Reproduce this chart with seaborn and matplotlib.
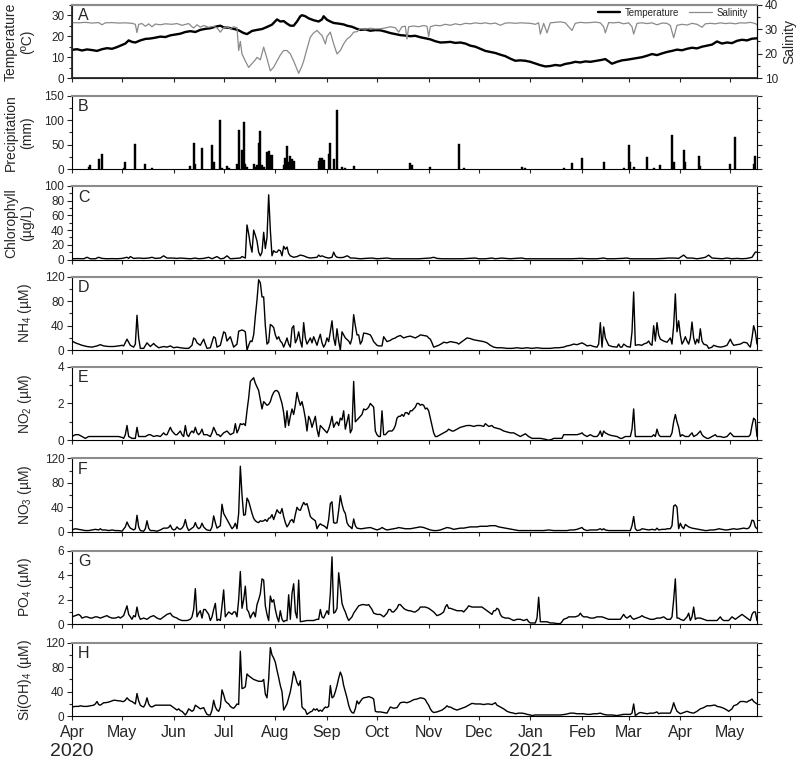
import numpy as np
import pandas as pd
import matplotlib
matplotlib.use("Agg")
import matplotlib.pyplot as plt
import matplotlib.dates as mdates
import matplotlib.transforms as mtransforms
from matplotlib.ticker import MultipleLocator
from matplotlib.lines import Line2D
import seaborn as sns

# ---------------- data (day offset from 2020-04-01, value) ----------------
START = "2020-04-01"

temperature = [(0,13.5),(3,13.8),(6,13.2),(9,13.7),(12,13.4),(15,13.0),(18,13.8),(21,14.3),(24,14.0),(27,14.8),
 (30,15.8),(32,16.5),(34,18.0),(36,17.3),(38,17.0),(41,18.0),(44,18.7),(47,18.9),(50,19.3),(53,19.8),(56,19.6),
 (59,20.4),(62,20.8),(65,21.2),(68,22.0),(71,22.4),(74,22.0),(77,23.0),(80,23.5),(83,23.8),(86,24.5),(89,25.0),
 (91,24.2),(94,24.0),(97,23.5),(100,22.8),(103,21.5),(105,21.0),(108,22.5),(111,23.0),(114,23.4),(117,24.4),
 (120,25.5),(123,28.0),(125,27.0),(127,27.2),(129,26.0),(131,25.0),(133,25.0),(135,27.0),(137,29.5),(138,30.0),
 (140,29.5),(142,28.5),(145,27.6),(148,27.0),(150,28.0),(151,29.5),(153,27.8),(155,27.0),(157,26.3),(160,26.0),
 (163,25.6),(165,25.0),(168,24.5),(171,23.5),(173,23.0),(176,23.2),(179,22.6),(182,22.9),(185,22.8),(188,22.2),
 (191,21.5),(194,21.0),(197,20.5),(200,20.3),(203,20.0),(206,20.2),(209,19.5),(212,19.0),(215,18.5),(218,17.6),
 (221,17.0),(224,17.1),(227,17.3),(230,16.8),(233,17.0),(236,16.5),(239,15.5),(242,15.0),(245,14.0),(248,13.0),
 (251,12.5),(254,12.0),(257,11.2),(260,10.5),(263,9.3),(266,8.3),(269,8.5),(272,8.3),(275,7.8),(278,7.0),
 (281,6.2),(284,5.6),(287,5.8),(290,6.3),(293,6.0),(296,6.8),(299,7.2),(302,7.8),(305,7.5),(308,8.0),(311,7.8),
 (314,8.2),(317,8.6),(320,9.1),(322,8.0),(324,6.9),(327,7.8),(330,8.5),(333,8.8),(336,9.2),(339,9.6),(342,10.0),
 (345,10.7),(348,11.5),(351,11.0),(354,11.8),(357,12.5),(360,13.0),(363,13.6),(366,13.3),(369,14.0),(372,14.5),
 (375,14.2),(378,15.0),(381,15.5),(384,16.0),(387,17.5),(390,16.5),(393,17.0),(396,16.7),(399,17.8),(402,18.3),
 (405,18.0),(408,18.8),(411,19.0)]

salinity = [(0,32.7),(4,32.6),(8,32.8),(12,32.5),(16,32.7),(18,31.8),(20,32.6),(24,32.7),(28,32.5),(32,32.6),
 (36,32.4),(38,32.0),(39,28.6),(40,32.0),(42,32.3),(44,31.2),(46,32.2),(48,31.0),(50,32.1),(53,31.8),(56,32.2),
 (60,32.0),(63,32.3),(66,31.6),(70,32.3),(72,31.0),(73,30.5),(75,31.8),(77,30.8),(79,31.5),(82,30.8),(85,31.2),
 (87,30.5),(89,28.8),(91,30.6),(93,30.9),(95,30.2),(97,31.0),(99,30.6),(100,21.3),(101,25.0),(102,19.9),(104,17.0),
 (106,14.4),(108,16.0),(110,17.5),(111,18.5),(113,17.5),(115,22.7),(117,18.0),(119,13.0),(121,14.5),(123,17.0),
 (125,19.5),(127,21.3),(129,21.3),(131,19.9),(133,17.0),(136,12.0),(138,15.0),(139,17.0),(141,22.0),(143,26.8),
 (145,28.5),(147,29.5),(149,28.0),(150,27.5),(152,24.0),(153,27.0),(155,28.8),(157,24.0),(159,19.9),(161,21.3),
 (163,24.0),(165,26.0),(167,27.0),(169,28.8),(171,29.0),(173,30.2),(176,30.0),(179,30.4),(182,30.1),(185,30.2),
 (188,30.5),(191,31.0),(194,30.6),(196,28.8),(198,31.0),(200,31.2),(201,26.0),(202,31.0),(205,31.3),(208,31.0),
 (211,31.5),(213,31.2),(214,27.0),(215,31.0),(218,31.6),(221,31.4),(224,32.0),(227,31.6),(230,32.2),(233,31.8),
 (236,32.4),(239,32.2),(242,32.6),(245,32.3),(248,32.6),(251,32.2),(254,32.5),(257,31.6),(260,32.5),(263,32.6),
 (266,32.4),(269,32.6),(272,32.5),(275,32.4),(278,32.0),(280,32.6),(281,28.0),(283,32.4),(285,28.5),(287,32.6),
 (290,32.8),(293,33.0),(296,32.6),(298,31.0),(300,29.5),(302,32.4),(305,32.8),(308,32.6),(311,32.7),(314,32.9),
 (317,32.6),(319,31.0),(320,28.5),(322,32.7),(325,32.6),(328,32.8),(331,32.2),(334,32.6),(336,31.0),(337,28.0),
 (339,32.4),(342,32.6),(345,32.3),(348,32.6),(351,31.8),(354,32.5),(357,32.4),(359,31.5),(361,26.5),(363,31.6),
 (366,32.0),(369,31.7),(372,32.4),(375,32.0),(378,30.8),(380,32.2),(383,32.4),(386,32.2),(389,32.6),(392,32.3),
 (395,32.5),(398,32.2),(401,32.6),(404,32.5),(407,32.8),(410,32.3),(411,31.8)]

precipitation = [(10,4),(11,8),(16,20),(18,31),(31,3),(32,14),(38,51),(44,11),(48,2),(71,7),(73,54),(74,10),
 (78,43),(84,50),(85,14),(89,100),(90,3),(93,7),(94,3),(99,10),(100,81),(102,39),(103,97),(104,10),(105,4),
 (109,10),(110,4),(111,8),(112,53),(113,77),(114,9),(115,4),(117,35),(118,37),(119,28),(120,30),(127,9),(128,22),
 (129,47),(130,15),(131,27),(132,20),(133,16),(148,17),(149,23),(150,22),(151,18),(154,32),(155,53),(157,20),
 (159,120),(162,4),(164,3),(169,6),(203,13),(204,9),(215,4),(232,51),(235,2),(270,4),(272,2),(295,2),(300,13),
 (306,22),(319,14),(331,3),(334,50),(335,14),(337,4),(345,24),(349,3),(353,8),(360,69),(361,15),(367,39),
 (368,14),(376,27),(377,6),(395,11),(398,65),(409,10),(410,27)]

chlorophyll = [(0,1),(4,1.2),(7,1),(9,3),(11,1),(14,1),(16,3),(18,1.5),(21,1),(24,1.2),(27,1),(30,1.5),(33,3),
 (34,1.5),(35,4),(37,1.5),(40,2),(43,1.5),(46,2),(48,3),(50,1.5),(53,2),(55,5),(57,2),(60,2),(63,1.5),(65,2),
 (68,1.5),(71,1),(74,2),(76,1),(79,1.5),(82,3),(84,1),(87,4),(89,1),(91,1.5),(93,5),(95,1),(98,1.5),(101,2),
 (102,4),(104,2),(105,47),(106,35),(107,20),(108,10),(109,40),(110,33),(111,25),(112,10),(113,5),(114,10),
 (115,37),(116,15),(117,30),(118,88),(119,40),(120,5),(121,12),(122,10),(123,10),(124,13),(125,12),(126,5),
 (127,18),(128,14),(129,17),(130,8),(131,5),(133,3),(135,4),(137,6),(139,5),(141,3),(143,2),(145,2.5),(147,3),
 (148,6),(149,4),(150,5),(152,3),(154,2),(156,3),(157,10),(158,5),(159,3),(161,2.5),(163,3),(165,5),(166,4),
 (167,2),(169,2),(171,1.5),(173,1),(176,1.5),(180,2),(183,1),(186,1.5),(189,2),(192,1),(196,1),(200,1),(204,1),
 (208,1),(212,1.5),(215,2),(217,3),(219,1.5),(222,1),(226,1),(230,1),(234,1),(238,1.5),(242,2),(244,1),(248,1),
 (252,2),(254,1),(258,2),(260,1.5),(263,1),(266,1.5),(270,2),(272,1),(276,1),(280,1),(285,1),(290,1),(295,1),
 (300,1),(305,1.5),(310,1),(315,1),(319,2),(321,1),(325,1),(330,1.5),(333,2),(335,1),(340,1),(345,1),(350,1),
 (355,1.5),(358,2),(361,2),(364,1.5),(367,6),(369,2),(372,2),(375,1),(378,2),(380,3),(382,6),(384,2),(387,1.5),
 (390,1),(393,2),(396,1),(399,1.5),(402,1),(405,1.5),(408,3),(410,10),(411,10)]

ammonium = [(0,15),(2,12),(4,10),(6,8),(9,6),(12,5),(15,7),(17,9),(19,7),(22,6),(25,6),(28,7),(30,8),(31,7),
 (33,18),(35,8),(37,5),(38,10),(39,57),(40,20),(41,3),(43,3),(45,12),(47,6),(49,11),(50,8),(52,4),(55,6),(57,5),
 (59,7),(61,4),(63,5),(65,4),(68,3),(70,3),(72,8),(73,20),(74,18),(75,12),(77,8),(79,18),(80,10),(81,3),(83,4),
 (85,22),(86,20),(87,5),(89,8),(91,30),(92,28),(93,15),(95,22),(97,5),(99,10),(100,31),(102,33),(103,32),(104,30),
 (105,0),(106,8),(107,15),(108,14),(109,25),(110,55),(111,82),(112,115),(113,110),(114,87),(115,87),(116,40),
 (117,10),(118,13),(119,42),(120,40),(121,37),(122,25),(123,18),(124,22),(125,15),(126,12),(127,5),(128,12),
 (129,20),(130,10),(131,5),(132,36),(133,40),(134,12),(135,18),(136,30),(137,15),(138,5),(139,45),(140,20),
 (141,10),(142,15),(143,20),(144,12),(145,22),(146,15),(147,8),(148,18),(149,26),(150,12),(151,5),(152,10),
 (153,20),(154,14),(155,30),(156,48),(157,20),(158,8),(159,35),(160,15),(161,0),(162,30),(163,25),(164,20),
 (166,15),(167,10),(168,20),(169,58),(170,40),(171,25),(172,25),(173,10),(174,15),(175,28),(177,27),(179,25),
 (180,20),(181,14),(183,8),(184,7),(186,7),(187,22),(188,18),(189,14),(191,16),(192,18),(194,20),(195,22),
 (197,24),(199,20),(201,22),(203,23),(205,21),(206,20),(208,23),(209,25),(211,24),(213,23),(214,20),(215,18),
 (216,12),(217,5),(219,7),(220,8),(222,11),(223,13),(225,12),(227,14),(229,13),(231,12),(232,10),(234,14),
 (236,18),(237,20),(239,19),(241,17),(243,16),(245,15),(247,14),(249,12),(251,8),(253,5),(255,4),(258,4),(261,3),
 (264,3),(267,4),(270,3),(273,4),(276,3),(279,4),(282,3),(285,3),(287,3),(290,4),(292,4),(295,5),(297,7),(299,8),
 (301,10),(303,9),(305,11),(306,12),(308,9),(309,7),(311,8),(313,6),(315,5),(316,10),(317,45),(318,5),(319,38),
 (320,20),(322,8),(324,6),(327,5),(328,10),(329,5),(330,5),(331,10),(333,6),(335,5),(336,30),(337,95),(338,8),
 (340,9),(342,8),(343,10),(345,12),(346,15),(347,10),(348,8),(349,40),(350,15),(351,45),(352,25),(353,18),
 (355,15),(357,13),(359,20),(360,10),(361,40),(362,92),(363,30),(364,48),(365,25),(366,10),(367,15),(368,22),
 (369,15),(370,10),(371,20),(372,46),(373,20),(374,10),(375,18),(376,12),(377,35),(378,15),(379,10),(381,8),
 (382,3),(384,5),(385,8),(387,6),(389,5),(391,6),(393,8),(395,18),(396,12),(397,8),(399,9),(401,10),(403,13),
 (405,12),(406,8),(407,5),(408,20),(409,40),(410,30),(411,10)]

nitrite = [(0,0.2),(2,0.3),(4,0.3),(6,0.2),(8,0.1),(10,0.2),(13,0.2),(16,0.2),(19,0.2),(22,0.2),(25,0.2),
 (28,0.2),(30,0.15),(31,0.1),(32,0.3),(33,0.8),(34,0.2),(36,0.1),(38,0.1),(39,0.7),(40,0.2),(42,0.2),(44,0.2),
 (46,0.3),(47,0.3),(49,0.2),(51,0.25),(53,0.2),(55,0.4),(56,0.3),(57,0.3),(59,0.7),(60,0.5),(61,0.4),(62,0.3),
 (63,0.3),(64,0.4),(65,0.5),(66,0.3),(67,0.2),(68,0.8),(69,0.3),(70,0.2),(71,0.4),(72,0.5),(73,0.4),(74,0.7),
 (75,0.4),(76,0.3),(77,0.4),(78,0.6),(79,0.3),(81,0.3),(83,0.2),(84,0.4),(85,0.7),(86,0.5),(87,0.3),(88,0.3),
 (89,0.2),(91,0.4),(93,0.5),(94,0.4),(95,0.3),(96,0.35),(97,0.4),(98,0.9),(99,0.4),(100,0.6),(101,0.9),
 (102,0.85),(103,0.9),(104,0.8),(105,1.6),(106,2.3),(107,3.2),(108,3.3),(109,3.4),(110,3.1),(111,2.9),(112,2.7),
 (113,2.2),(114,1.7),(115,2.1),(116,2.0),(117,1.9),(118,1.95),(119,2.1),(120,2.4),(121,2.6),(122,2.7),(123,2.7),
 (124,2.6),(125,2.3),(126,2.0),(127,1.5),(128,0.7),(129,1.6),(130,0.8),(131,1.3),(132,1.7),(133,1.4),(134,1.9),
 (135,2.6),(136,2.2),(137,1.9),(138,2.1),(139,1.7),(140,1.2),(141,0.5),(142,1.3),(143,1.1),(144,0.7),(145,1.0),
 (146,1.3),(147,0.6),(148,0.2),(149,0.8),(150,0.7),(151,0.6),(152,0.5),(153,0.4),(154,0.6),(155,0.9),(156,1.3),
 (157,0.7),(158,0.9),(159,1.0),(160,0.8),(161,1.2),(162,1.1),(163,1.6),(164,0.6),(165,1.0),(166,1.4),(167,0.4),
 (168,0.6),(169,3.2),(170,1.0),(171,1.1),(172,1.2),(173,1.3),(174,1.4),(175,1.7),(176,1.65),(177,1.7),(178,1.8),
 (179,2.0),(180,1.9),(181,1.8),(182,0.5),(183,0.3),(184,0.2),(185,0.2),(186,1.6),(187,0.3),(188,0.3),(189,0.4),
 (190,0.5),(192,0.5),(193,0.6),(194,0.8),(195,1.2),(196,1.3),(197,1.3),(198,1.4),(199,1.3),(200,1.5),(201,1.5),
 (202,1.4),(203,1.6),(204,1.6),(205,1.7),(206,1.8),(207,2.0),(208,2.0),(209,1.9),(210,1.95),(211,1.9),(212,1.7),
 (213,1.75),(214,1.6),(215,1.2),(216,0.8),(217,0.4),(218,0.2),(219,0.2),(221,0.3),(223,0.4),(225,0.5),(226,0.6),
 (228,0.5),(229,0.5),(231,0.6),(233,0.7),(235,0.75),(237,0.8),(239,0.8),(241,0.75),(243,0.8),(245,0.8),
 (247,0.75),(248,0.9),(250,0.75),(252,0.8),(253,0.7),(255,0.65),(257,0.6),(259,0.5),(261,0.45),(263,0.4),
 (265,0.4),(267,0.3),(269,0.2),(271,0.3),(272,0.35),(274,0.2),(276,0.1),(278,0.1),(281,0.1),(284,0.05),(286,0.0),
 (288,0.05),(289,0.1),(292,0.1),(294,0.1),(295,0.3),(297,0.3),(299,0.3),(301,0.3),(303,0.3),(305,0.35),(306,0.4),
 (307,0.3),(309,0.2),(311,0.3),(313,0.2),(315,0.2),(316,0.3),(317,0.5),(318,0.2),(319,0.5),(320,0.4),(322,0.3),
 (324,0.25),(327,0.2),(329,0.1),(330,0.1),(332,0.2),(335,0.2),(336,0.6),(337,1.7),(338,0.2),(340,0.2),(343,0.2),
 (346,0.2),(348,0.2),(349,0.3),(350,0.2),(351,0.6),(352,0.3),(353,0.2),(356,0.2),(359,0.2),(360,0.4),(361,1.0),
 (362,1.4),(363,1.0),(364,0.7),(365,0.2),(366,0.3),(368,0.2),(370,0.2),(372,0.4),(373,0.2),(375,0.3),(377,0.5),
 (378,0.3),(379,0.2),(381,0.1),(382,0.1),(384,0.2),(386,0.3),(387,0.2),(389,0.2),(391,0.15),(393,0.2),(395,0.4),
 (396,0.3),(397,0.2),(400,0.2),(403,0.2),(406,0.2),(407,0.3),(408,0.8),(409,1.2),(410,1.1),(411,0.2)]

nitrate = [(0,3),(2,5),(4,4),(6,3),(8,2),(10,2),(12,3),(14,4),(16,3),(17,5),(18,3),(20,3),(22,2),(24,3),(26,2),
 (28,2),(30,1),(32,8),(33,16),(34,10),(35,6),(37,3),(38,5),(39,27),(40,8),(41,2),(43,1),(44,5),(45,18),(46,6),
 (47,2),(49,2),(51,1),(53,3),(55,6),(57,6),(58,7),(59,11),(60,5),(61,3),(62,4),(63,8),(64,5),(65,4),(66,6),
 (67,10),(68,20),(69,8),(70,2),(71,4),(72,6),(73,8),(74,15),(75,8),(76,5),(77,7),(78,14),(79,8),(80,5),(81,3),
 (83,2),(84,8),(85,26),(86,15),(87,6),(88,8),(89,10),(90,45),(91,30),(92,25),(93,20),(94,15),(95,10),(96,5),
 (97,8),(98,14),(99,5),(100,30),(101,107),(102,60),(103,27),(104,28),(105,55),(106,50),(107,40),(108,30),
 (109,22),(110,18),(111,16),(112,15),(113,18),(114,17),(115,18),(116,20),(117,17),(118,22),(119,23),(120,28),
 (121,20),(122,28),(123,36),(124,32),(125,30),(126,38),(127,25),(128,15),(129,8),(130,12),(131,18),(132,20),
 (133,15),(134,28),(135,40),(136,36),(137,35),(138,42),(139,48),(140,44),(141,46),(142,36),(143,25),(144,22),
 (145,20),(146,18),(147,5),(148,10),(149,13),(150,11),(151,10),(152,8),(153,5),(154,20),(155,46),(156,49),
 (157,15),(158,14),(159,15),(160,35),(161,59),(162,45),(163,35),(164,30),(165,15),(166,10),(167,8),(168,5),
 (169,21),(170,10),(171,6),(173,5),(174,5),(176,6),(179,7),(181,5),(183,3),(185,5),(186,7),(188,4),(189,3),
 (191,4),(193,5),(195,6),(196,7),(198,6),(200,5),(203,5),(205,6),(207,7),(209,8),(211,7),(213,5),(215,3),(217,2),
 (219,2),(221,3),(223,5),(225,7),(227,6),(229,4),(231,5),(233,6),(235,6),(237,7),(239,8),(241,8),(243,8),(245,9),
 (247,9),(249,9),(251,10),(253,10),(254,10),(256,8),(258,7),(260,6),(262,5),(264,4),(266,3),(268,2),(271,2),
 (274,2),(277,2),(280,2),(283,2),(286,3),(289,2),(292,2),(295,2),(297,2),(299,3),(301,3),(303,4),(305,6),(306,7),
 (307,4),(309,2),(311,3),(313,3),(315,3),(317,5),(318,3),(319,5),(320,3),(322,2),(325,2),(327,2),(330,2),(333,2),
 (335,2),(336,10),(337,25),(338,5),(339,2),(341,3),(342,5),(344,4),(346,3),(348,4),(350,3),(351,6),(352,3),
 (354,4),(356,4),(357,5),(359,5),(360,10),(361,42),(362,44),(363,40),(364,5),(365,14),(366,8),(367,5),(368,12),
 (369,10),(370,8),(372,6),(374,5),(376,4),(378,3),(380,2),(381,2),(383,3),(385,3),(387,4),(388,5),(390,4),
 (392,3),(393,3),(395,4),(397,5),(399,4),(401,5),(403,6),(405,5),(406,6),(407,10),(408,19),(409,18),(410,8),
 (411,5)]

phosphate = [(0,0.6),(2,0.7),(4,0.8),(5,0.7),(6,0.5),(8,0.6),(9,0.6),(11,0.5),(12,0.5),(14,0.6),(15,0.6),
 (17,0.5),(19,0.6),(21,0.7),(22,0.6),(24,0.5),(26,0.5),(28,0.6),(29,0.5),(31,0.7),(33,1.5),(34,0.8),(36,0.4),
 (37,0.7),(38,0.6),(39,1.4),(40,0.7),(41,0.4),(43,0.5),(45,0.4),(47,0.6),(49,0.7),(51,0.5),(53,0.4),(55,0.6),
 (57,0.8),(59,0.9),(60,0.7),(61,0.6),(63,0.5),(64,0.4),(66,0.3),(68,0.3),(69,0.3),(71,0.4),(72,0.6),(73,1.2),
 (74,2.9),(75,0.6),(76,0.9),(77,1.1),(78,0.5),(79,1.2),(80,1.2),(81,1.0),(82,0.8),(83,0.3),(84,0.6),(85,1.2),
 (86,1.7),(87,0.3),(88,0.4),(89,0.3),(90,1.5),(91,2.8),(92,0.6),(93,0.8),(94,1.0),(95,0.9),(96,0.8),(97,1.0),
 (98,1.0),(99,0.6),(100,2.0),(101,4.3),(102,1.3),(103,2.0),(104,3.1),(105,1.2),(106,1.0),(107,0.5),(108,0.8),
 (109,1.0),(110,0.6),(111,1.6),(112,2.0),(113,2.5),(114,3.7),(115,3.6),(116,1.5),(117,0.8),(118,0.3),(119,2.3),
 (120,1.8),(121,2.0),(122,1.2),(123,0.6),(124,0.2),(125,1.1),(126,0.4),(127,0.2),(128,0.3),(129,0.3),(130,2.4),
 (131,0.4),(132,2.5),(133,3.3),(134,1.0),(135,0.5),(136,3.6),(137,0.2),(139,0.25),(141,0.3),(143,0.3),(145,0.3),
 (147,0.4),(148,0.4),(149,1.2),(150,0.6),(151,0.5),(152,0.8),(153,1.1),(154,0.8),(155,2.5),(156,5.5),(157,0.9),
 (158,1.0),(159,1.3),(160,4.2),(161,3.0),(162,1.7),(163,1.3),(164,1.0),(165,0.6),(166,0.3),(168,0.6),(169,0.9),
 (171,1.3),(172,1.5),(174,1.6),(175,1.6),(177,1.55),(178,1.6),(180,1.2),(181,0.9),(183,0.8),(185,0.8),(187,0.6),
 (189,0.9),(190,1.2),(191,1.2),(192,1.0),(193,1.0),(195,1.3),(196,1.6),(197,1.6),(199,1.3),(200,1.2),(202,1.1),
 (203,1.1),(205,1.0),(206,1.0),(208,1.2),(209,1.4),(211,1.4),(212,1.4),(214,1.3),(215,1.2),(217,1.0),(219,0.7),
 (221,0.8),(223,1.0),(224,1.4),(225,1.6),(226,1.3),(227,1.3),(229,1.2),(231,1.1),(232,1.1),(234,1.1),(235,1.0),
 (237,1.3),(238,1.5),(240,1.4),(242,1.4),(244,1.4),(246,1.4),(248,1.2),(249,1.1),(251,0.9),(252,0.8),(253,1.1),
 (254,1.1),(255,1.3),(256,1.2),(257,0.8),(258,0.6),(260,0.5),(262,0.5),(265,0.3),(267,0.4),(269,0.4),(271,0.3),
 (273,0.4),(274,0.2),(275,0.1),(277,0.1),(278,0.1),(279,0.5),(280,2.2),(281,0.2),(283,0.2),(285,0.2),(287,0.1),
 (289,0.1),(291,0.05),(293,0.05),(294,0.2),(295,0.4),(297,0.5),(298,0.6),(300,0.6),(302,0.6),(304,0.7),(305,0.9),
 (306,0.7),(307,0.6),(309,0.6),(311,0.5),(313,0.5),(315,0.6),(317,0.6),(318,0.6),(320,0.5),(322,0.4),(324,0.4),
 (326,0.4),(328,0.4),(329,0.4),(330,0.6),(331,0.8),(332,0.6),(333,0.5),(334,0.6),(335,0.7),(336,0.5),(337,0.4),
 (339,0.5),(341,0.6),(342,0.7),(343,0.6),(345,0.5),(347,0.4),(349,0.4),(351,0.5),(353,0.5),(355,0.6),(357,0.4),
 (359,0.4),(360,0.6),(361,2.0),(362,3.7),(363,0.5),(364,0.5),(365,0.4),(367,0.3),(369,0.6),(370,0.9),(371,0.3),
 (372,0.6),(373,1.4),(374,0.4),(375,0.5),(377,0.5),(379,0.4),(381,0.3),(383,0.3),(385,0.3),(387,0.3),(389,0.6),
 (390,0.4),(391,0.3),(393,0.3),(394,0.3),(396,0.6),(397,0.5),(398,0.4),(400,0.6),(402,0.8),(404,0.6),(405,0.5),
 (407,0.3),(408,0.8),(409,1.0),(410,1.0),(411,0.3)]

silicate = [(0,15),(2,16),(4,16),(5,17),(7,16),(9,16),(11,17),(13,18),(14,20),(15,24),(16,19),(17,18),(19,22),
 (20,22),(22,23),(23,24),(25,26),(26,26),(28,25),(29,25),(30,24),(31,24),(32,26),(33,30),(34,27),(35,25),(36,24),
 (37,22),(38,20),(39,37),(40,25),(41,18),(42,16),(43,15),(44,20),(45,30),(46,20),(47,16),(48,15),(50,18),(52,18),
 (54,18),(55,18),(57,18),(59,18),(60,16),(61,14),(62,12),(63,10),(64,12),(65,9),(66,8),(67,5),(68,2),(69,6),
 (70,12),(71,10),(72,8),(73,10),(74,18),(75,16),(76,14),(77,12),(78,13),(79,14),(80,8),(81,3),(82,2),(83,2),
 (84,10),(85,26),(86,15),(87,10),(88,8),(89,15),(90,43),(91,35),(92,25),(93,22),(94,20),(95,16),(96,14),(97,13),
 (98,16),(99,20),(100,19),(101,106),(102,45),(103,46),(104,48),(105,69),(106,66),(107,64),(108,62),(109,60),
 (110,59),(111,58),(112,57),(113,57),(114,57),(115,60),(116,36),(117,30),(118,60),(119,112),(120,100),(121,95),
 (122,88),(123,75),(124,63),(125,50),(126,40),(127,10),(128,15),(129,20),(130,30),(131,40),(132,55),(133,73),
 (134,65),(135,55),(136,50),(137,58),(138,15),(139,12),(140,10),(141,3),(142,5),(143,7),(144,8),(145,12),(146,10),
 (147,12),(148,8),(149,10),(150,8),(151,12),(152,15),(153,14),(154,16),(155,50),(156,30),(157,32),(158,40),
 (159,50),(160,62),(161,72),(162,65),(163,50),(164,40),(165,30),(166,18),(167,10),(168,6),(169,5),(170,12),
 (171,25),(172,20),(173,24),(174,28),(175,30),(177,31),(178,32),(179,31),(180,30),(181,28),(182,8),(183,7),
 (185,7),(187,6),(189,5),(190,10),(191,15),(193,13),(195,14),(196,18),(197,22),(199,23),(201,22),(203,24),
 (205,27),(207,28),(209,30),(211,29),(212,27),(213,22),(214,18),(215,12),(216,8),(217,6),(219,7),(220,8),(222,10),
 (224,14),(225,17),(226,15),(227,15),(229,12),(231,10),(233,12),(235,14),(236,15),(238,18),(240,21),(242,20),
 (244,20),(245,20),(247,19),(249,20),(250,20),(252,19),(254,22),(255,18),(257,15),(259,12),(261,8),(263,6),
 (265,5),(266,4),(268,5),(270,5),(272,4),(273,3),(275,2),(276,1),(278,2),(281,2),(284,2),(287,2),(290,2),(293,2),
 (296,3),(299,5),(301,5),(303,4),(305,4),(307,4),(309,3),(311,3),(313,4),(315,4),(317,5),(319,3),(321,2),(324,2),
 (327,1),(329,2),(331,3),(333,3),(335,3),(336,5),(337,20),(338,1),(340,5),(341,6),(343,5),(345,4),(347,5),(349,5),
 (351,7),(352,4),(353,5),(355,5),(357,5),(359,5),(360,12),(361,22),(362,14),(363,8),(364,6),(365,4),(367,6),
 (369,8),(371,6),(373,5),(375,8),(377,12),(379,14),(381,17),(383,17),(385,18),(386,18),(387,16),(389,15),(391,13),
 (393,10),(394,8),(396,12),(397,17),(399,19),(401,24),(403,24),(405,23),(406,25),(407,26),(408,28),(409,24),
 (410,22),(411,20)]

panel_letters = ["A", "B", "C", "D", "E", "F", "G", "H"]
panel_ylabels = ["Temperature\n(ºC)", "Precipitation\n(mm)", "Chlorophyll\n(µg/L)", "NH$_4$ (µM)",
                 "NO$_2$ (µM)", "NO$_3$ (µM)", "PO$_4$ (µM)", "Si(OH)$_4$ (µM)"]
panel_ylims = [(0, 35), (0, 150), (0, 100), (0, 120), (0, 4), (0, 120), (0, 6), (0, 120)]
panel_major = [10, 50, 20, 40, 2, 40, 2, 40]
panel_minor = [5, 25, 10, 20, 1, 20, 1, 20]
legend_labels = ["Temperature", "Salinity"]
year_labels = [("2020-04-01", "2020"), ("2021-01-01", "2021")]
X_END_DAY = 411

# ---------------- helpers ----------------
BASE = pd.Timestamp(START)


def to_frame(pairs):
    df = pd.DataFrame(pairs, columns=["day", "value"])
    df["date"] = BASE + pd.to_timedelta(df["day"], unit="D")
    return df


# ---------------- figure ----------------
sns.set_theme(style="ticks")
plt.rcParams["font.family"] = ["Liberation Sans", "DejaVu Sans"]
plt.rcParams["mathtext.fontset"] = "custom"
plt.rcParams["mathtext.rm"] = "Liberation Sans"
plt.rcParams["mathtext.it"] = "Liberation Sans"
plt.rcParams["mathtext.default"] = "regular"

W, H = 796, 759
fig = plt.figure(figsize=(W / 100, H / 100), dpi=100)
left_px, right_px = 72, 757
tops_px = [4.7, 95.7, 186.0, 276.7, 366.7, 458.3, 550.7, 642.7]
h_px = 73.5

axes = []
for t in tops_px:
    ax = fig.add_axes([left_px / W, 1 - (t + h_px) / H, (right_px - left_px) / W, h_px / H])
    axes.append(ax)

xmin = BASE
xmax = BASE + pd.Timedelta(days=X_END_DAY)

line_series = {2: chlorophyll, 3: ammonium, 4: nitrite, 5: nitrate, 6: phosphate, 7: silicate}

# Panel A
axA = axes[0]
tdf = to_frame(temperature)
sns.lineplot(data=tdf, x="date", y="value", ax=axA, color="black", lw=1.7, estimator=None)
axS = axA.twinx()
sdf = to_frame(salinity)
sns.lineplot(data=sdf, x="date", y="value", ax=axS, color="#8a8a8a", lw=0.9, estimator=None)
axS.set_ylim(10, 40)
axS.yaxis.set_major_locator(MultipleLocator(10))
axS.yaxis.set_minor_locator(MultipleLocator(5))
axS.tick_params(axis="y", which="both", direction="out", labelsize=8.5, width=0.8, pad=2)
axS.tick_params(axis="y", which="major", length=3.5)
axS.tick_params(axis="y", which="minor", length=2)
axS.set_ylabel("Salinity", fontsize=10)
axS.yaxis.set_label_coords(1.037, 0.5)
axS.set_xlabel("")
axS.spines["top"].set_color("#8c8c8c")
axS.spines["top"].set_linewidth(1.5)
axS.spines["right"].set_linewidth(0.8)
axS.spines["right"].set_color("black")
handles = [Line2D([], [], color="black", lw=1.7), Line2D([], [], color="#8a8a8a", lw=0.9)]
axS.legend(handles, legend_labels, loc="upper right", bbox_to_anchor=(0.995, 1.04), ncol=2,
           frameon=False, fontsize=7, handlelength=2.3, columnspacing=1.0, handletextpad=0.5,
           borderaxespad=0.2)

# Panel B
pdf = to_frame(precipitation)
axes[1].bar(pdf["date"], pdf["value"], width=1.1, color="black", edgecolor="black", linewidth=0.3)

for i, pairs in line_series.items():
    df = to_frame(pairs)
    sns.lineplot(data=df, x="date", y="value", ax=axes[i], color="black", lw=1.0, estimator=None)

for i, ax in enumerate(axes):
    ax.set_xlim(xmin, xmax)
    ax.set_ylim(*panel_ylims[i])
    ax.yaxis.set_major_locator(MultipleLocator(panel_major[i]))
    ax.yaxis.set_minor_locator(MultipleLocator(panel_minor[i]))
    ax.xaxis.set_major_locator(mdates.MonthLocator())
    ax.xaxis.set_major_formatter(mdates.DateFormatter("%b"))
    ax.tick_params(axis="y", which="both", direction="out", left=True, right=(i != 0),
                   labelright=False, labelsize=8.5, width=0.8, pad=2)
    ax.tick_params(axis="y", which="major", length=3.5)
    ax.tick_params(axis="y", which="minor", length=2)
    ax.tick_params(axis="x", which="major", direction="out", length=3, width=0.8, top=False,
                   bottom=True, labelbottom=(i == 7), labelsize=11.5, pad=3.5)
    ax.tick_params(axis="x", which="minor", bottom=False, top=False)
    for s in ["left", "right", "bottom"]:
        ax.spines[s].set_color("black")
        ax.spines[s].set_linewidth(0.8)
    ax.spines["top"].set_color("#8c8c8c")
    ax.spines["top"].set_linewidth(1.5)
    ax.text(0.009, 0.95, panel_letters[i], transform=ax.transAxes, ha="left", va="top", fontsize=11.5)
    ax.set_xlabel("")
    ax.set_ylabel(panel_ylabels[i], fontsize=10, linespacing=1.15)
    ax.yaxis.set_label_coords(-0.056, 0.5)

bax = axes[-1]
trans = mtransforms.blended_transform_factory(bax.transData, bax.transAxes)
for dstr, lab in year_labels:
    bax.text(mdates.date2num(pd.Timestamp(dstr)), -0.475, lab, transform=trans,
             ha="center", va="center", fontsize=14)

fig.savefig("out.png", dpi=100)
